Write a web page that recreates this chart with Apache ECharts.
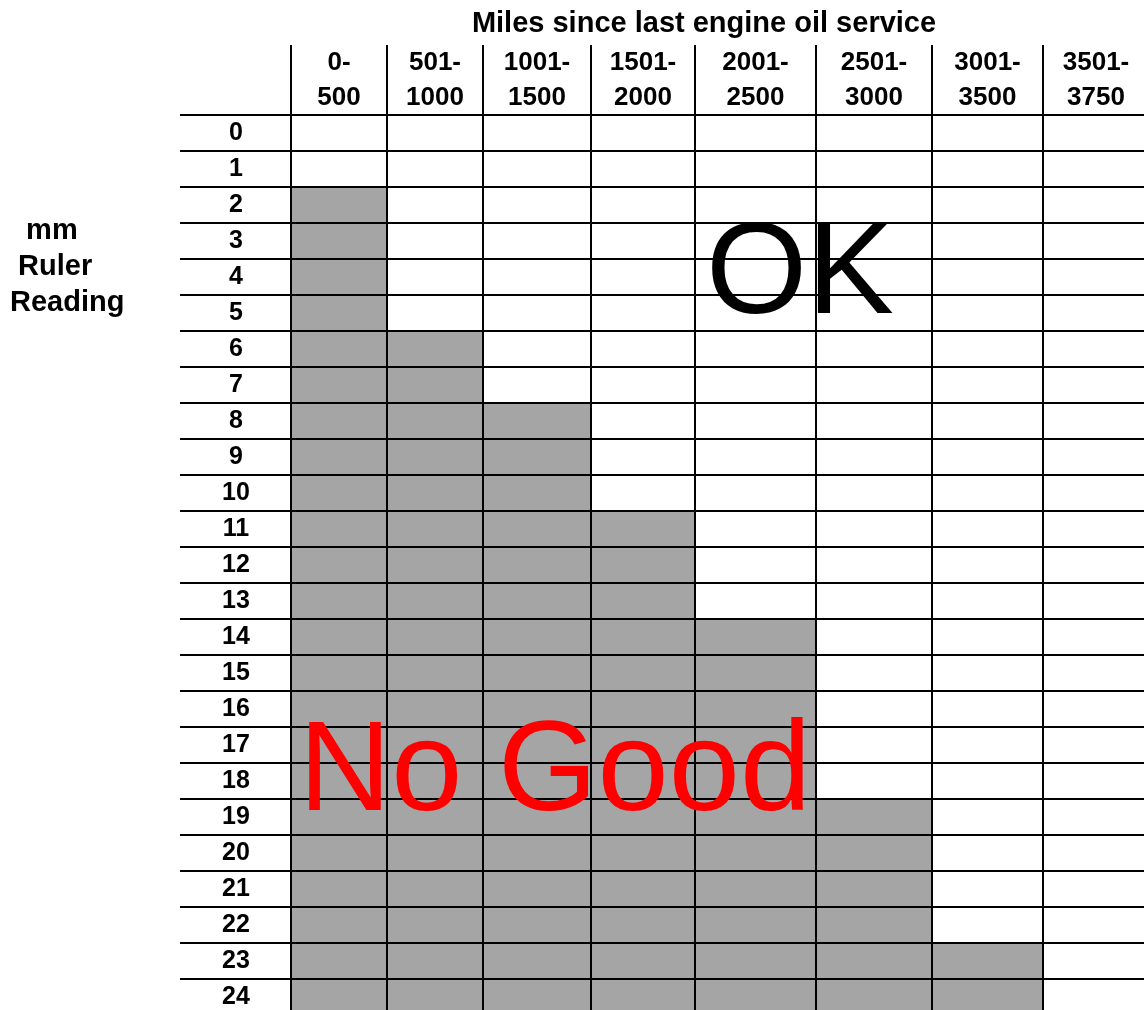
<!DOCTYPE html>
<html>
<head>
<meta charset="utf-8">
<title>mm ruler reading vs miles since oil service</title>
<script src="https://cdn.jsdelivr.net/npm/echarts@6/dist/echarts.min.js"></script>
<style>
  html, body { margin: 0; padding: 0; background: #fff; }
  #chart { width: 1144px; height: 1010px; }
</style>
</head>
<body>
<div id="chart"></div>
<script>
// mileage bands (columns)
const mileBands = ["0-\n500", "501-\n1000", "1001-\n1500", "1501-\n2000", "2001-\n2500", "2501-\n3000", "3001-\n3500", "3501-\n3750"];
// mm ruler readings (rows)
const mmReadings = ["0", "1", "2", "3", "4", "5", "6", "7", "8", "9", "10", "11", "12", "13", "14", "15", "16", "17", "18", "19", "20", "21", "22", "23", "24"];
// first mm reading that counts as "No Good" in each band (null = none)
const noGoodFrom = [2, 6, 8, 11, 14, 19, 23, null];

// layout only: relative column widths as drawn in the table
const colWidths = [96, 96, 108, 104, 121, 116, 111, 106];
const colEdges = [0];
colWidths.forEach(function (w) { colEdges.push(colEdges[colEdges.length - 1] + w); });
const colCenters = colWidths.map(function (w, i) { return colEdges[i] + w / 2; });

const FONT = "Liberation Sans, Arial, Helvetica, sans-serif";

let cells = [];
mileBands.forEach(function (b, i) {
  mmReadings.forEach(function (m, r) {
    let bad = noGoodFrom[i] !== null && r >= noGoodFrom[i] ? 1 : 0;
    cells.push([i, r, bad]);
  });
});

let chart = echarts.init(document.getElementById("chart"));
let option = {
  backgroundColor: "#fff",
  animation: false,
  title: {
    text: "Miles since last engine oil service",
    left: 699,
    top: 4,
    textAlign: "center",
    textStyle: {
      fontFamily: FONT,
      fontSize: 29,
      fontWeight: "bold",
      color: "#000"
    }
  },
  grid: {
    left: 291,
    top: 115,
    width: colEdges[colEdges.length - 1],
    height: 900,
    outerBoundsMode: "none",
    containLabel: false
  },
  xAxis: {
    type: "value",
    position: "top",
    min: 0,
    max: colEdges[colEdges.length - 1],
    axisLine: { show: false },
    splitLine: { show: false },
    axisTick: {
      show: true,
      customValues: colEdges,
      length: 70,
      lineStyle: { color: "#000", width: 2 }
    },
    axisLabel: {
      customValues: colCenters,
      margin: 0,
      fontFamily: FONT,
      fontSize: 26,
      fontWeight: "bold",
      lineHeight: 35,
      color: "#000",
      formatter: function (v) {
        let k = 0;
        colCenters.forEach(function (c, i) {
          if (Math.abs(c - v) < Math.abs(colCenters[k] - v)) k = i;
        });
        return mileBands[k];
      }
    }
  },
  yAxis: {
    type: "category",
    data: mmReadings,
    inverse: true,
    axisLine: { show: false },
    splitLine: { show: false },
    axisTick: {
      show: true,
      length: 111,
      lineStyle: { color: "#000", width: 2 }
    },
    axisLabel: {
      margin: 55,
      align: "center",
      padding: [3, 0, 0, 0],
      fontFamily: FONT,
      fontSize: 25,
      fontWeight: "bold",
      color: "#000"
    }
  },
  series: [
    {
      type: "custom",
      data: cells,
      clip: false,
      renderItem: function (params, api) {
        let i = api.value(0);
        let r = api.value(1);
        let p0 = api.coord([colEdges[i], r]);
        let p1 = api.coord([colEdges[i + 1], r]);
        let h = api.size([0, 1])[1];
        return {
          type: "rect",
          shape: { x: p0[0], y: p0[1] - h / 2, width: p1[0] - p0[0], height: h },
          style: {
            fill: api.value(2) ? "#a5a5a5" : "#fff",
            stroke: "#000",
            lineWidth: 2
          }
        };
      }
    }
  ],
  graphic: [
    {
      type: "text",
      x: 10,
      y: 213,
      style: {
        text: "  mm\n Ruler\nReading",
        textAlign: "left",
        fontFamily: FONT,
        fontSize: 29,
        fontWeight: "bold",
        lineHeight: 36,
        fill: "#000"
      }
    },
    {
      type: "text",
      x: 800,
      y: 277,
      z: 10,
      style: {
        text: "OK",
        textAlign: "center",
        textVerticalAlign: "middle",
        fontFamily: FONT,
        fontSize: 130,
        fill: "#000"
      }
    },
    {
      type: "text",
      x: 555,
      y: 775,
      z: 10,
      style: {
        text: "No Good",
        textAlign: "center",
        textVerticalAlign: "middle",
        fontFamily: FONT,
        fontSize: 128,
        fill: "#ff0000"
      }
    }
  ]
};
chart.setOption(option);
</script>
</body>
</html>
